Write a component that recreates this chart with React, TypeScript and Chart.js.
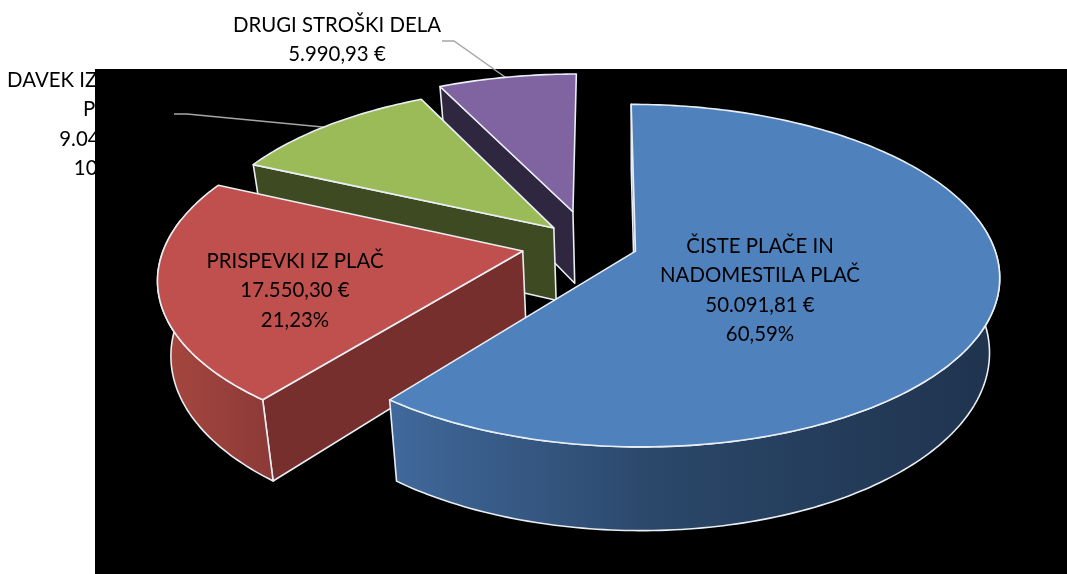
import React, { useEffect, useRef } from "react";
import { Chart, registerables } from "chart.js";

Chart.register(...registerables);

const categories = ["ČISTE PLAČE IN NADOMESTILA PLAČ", "PRISPEVKI IZ PLAČ", "DAVEK IZ PLAČ", "DRUGI STROŠKI DELA"];
const amounts = [50091.81, 17550.3, 9040.0, 5990.93];
const explode = [36, 49, 36, 53];
const topColors = ["#4f81bd", "#c0504d", "#9bbb59", "#8064a2"];
const radialColors = ["#1f3450", "#772f2e", "#3e4a21", "#2f2640"];
const arcStops = [
  [["0", "#40689a"], ["0.45", "#2a4668"], ["1", "#1f334e"]],
  [["0", "#a8473f"], ["1", "#8c3a38"]],
];
const behindLabels = [
  { lines: ["DRUGI STROŠKI DELA", "5.990,93 €"], x: 337, y: 25 },
  { lines: ["DAVEK IZ DOHODKA", "PLAČ", "9.040,00 €", "10,93%"], x: 108, y: 80 },
];
const sliceLabels = [
  { lines: ["ČISTE PLAČE IN", "NADOMESTILA PLAČ", "50.091,81 €", "60,59%"], x: 760, y: 246 },
  { lines: ["PRISPEVKI IZ PLAČ", "17.550,30 €", "21,23%"], x: 295, y: 261 },
];
const leaders = [
  [[442, 41], [454, 41], [505, 77]],
  [[174, 114], [187, 114], [333, 128]],
];

const FONT = "20.4px Lato";
const LINE = 29.5;
const K = 1 / 7;
const project = (u: number, v: number) => {
  const w = 1 - K * v;
  return { x: 636 + (360 * u + 5 * v) / w, y: 252 + (168 * v) / w };
};
const lower = (p: { x: number; y: number }) => ({
  x: 636 + (p.x - 636) * 0.972,
  y: p.y + 73.5 + (p.y - 250) * 0.052,
});

function drawLabels(ctx: CanvasRenderingContext2D, list: { lines: string[]; x: number; y: number }[]) {
  ctx.fillStyle = "#000";
  ctx.font = FONT;
  ctx.textAlign = "center";
  ctx.textBaseline = "middle";
  list.forEach((l) => l.lines.forEach((t, i) => ctx.fillText(t, l.x, l.y + i * LINE)));
}

function polygon(ctx: CanvasRenderingContext2D, pts: { x: number; y: number }[]) {
  ctx.beginPath();
  pts.forEach((p, i) => (i ? ctx.lineTo(p.x, p.y) : ctx.moveTo(p.x, p.y)));
  ctx.closePath();
}

const pie3d = {
  id: "pie3d",
  beforeDatasetsDraw(chart: any) {
    const ctx: CanvasRenderingContext2D = chart.ctx;
    ctx.save();
    ctx.fillStyle = "#fff";
    ctx.fillRect(0, 0, chart.width, chart.height);
    drawLabels(ctx, behindLabels);
    ctx.fillStyle = "#000";
    ctx.fillRect(95, 69, chart.width - 95, chart.height - 69);
    leaders.forEach((l) => {
      ctx.beginPath();
      l.forEach(([x, y], i) => (i ? ctx.lineTo(x, y) : ctx.moveTo(x, y)));
      ctx.strokeStyle = "#a6a6a6";
      ctx.lineWidth = 1.5;
      ctx.stroke();
    });

    const arcs = chart.getDatasetMeta(0).data;
    ctx.lineJoin = "round";
    for (let i = arcs.length - 1; i >= 0; i--) {
      const a = arcs[i];
      const mid = (a.startAngle + a.endAngle) / 2;
      const off = a.options.offset / a.outerRadius;
      const cu = -0.132 + off * Math.cos(mid);
      const cv = -0.05 + off * Math.sin(mid);
      const apex = project(cu, cv);
      const apexLow = lower(apex);
      const steps = Math.ceil(((a.endAngle - a.startAngle) * 180) / Math.PI);
      const angles: number[] = [];
      for (let s = 0; s <= steps; s++) angles.push(a.startAngle + ((a.endAngle - a.startAngle) * s) / steps);
      const rim = angles.map((t) => project(cu + Math.cos(t), cv + Math.sin(t)));
      const rimLow = rim.map(lower);
      ctx.strokeStyle = "#e9eef3";
      ctx.lineWidth = 1.6;
      // the radial wall, which faces the viewer only at the slice's start edge
      if (-Math.cos(a.startAngle) >= -0.04) {
        polygon(ctx, [apex, rim[0], rimLow[0], apexLow]);
        ctx.fillStyle = radialColors[i];
        ctx.fill();
        ctx.stroke();
      }
      // outer wall: only the part of the rim that faces the viewer
      const front = angles.map((t, n) => (Math.sin(t) > -0.2 ? n : -1)).filter((n) => n >= 0);
      if (front.length > 1 && arcStops[i]) {
        const g = ctx.createLinearGradient(i === 0 ? 395 : 160, 0, i === 0 ? 1000 : 270, 0);
        arcStops[i].forEach(([o, c]) => g.addColorStop(Number(o), c));
        const topPts = front.map((n) => rim[n]);
        const lowPts = front.map((n) => rimLow[n]).reverse();
        polygon(ctx, [...topPts, ...lowPts]);
        ctx.fillStyle = g;
        ctx.fill();
        ctx.stroke();
      }
      // top face
      polygon(ctx, [apex, ...rim]);
      ctx.fillStyle = a.options.backgroundColor;
      ctx.fill();
      ctx.stroke();
    }
    drawLabels(ctx, sliceLabels);
    ctx.restore();
    return false;
  },
};

export default function App() {
  const ref = useRef<HTMLCanvasElement>(null);
  useEffect(() => {
    document.body.style.margin = "0";
    const chart = new Chart(ref.current!, {
      type: "pie",
      data: {
        labels: categories,
        datasets: [{ data: amounts, backgroundColor: topColors, offset: explode, borderWidth: 0 }],
      },
      options: {
        responsive: false,
        animation: false,
        plugins: { legend: { display: false }, tooltip: { enabled: false } },
      },
      plugins: [pie3d],
    } as any);
    return () => chart.destroy();
  }, []);
  return (
    <div style={{ width: 1067, height: 574 }}>
      <canvas ref={ref} width={1067} height={574} style={{ display: "block" }} />
    </div>
  );
}
